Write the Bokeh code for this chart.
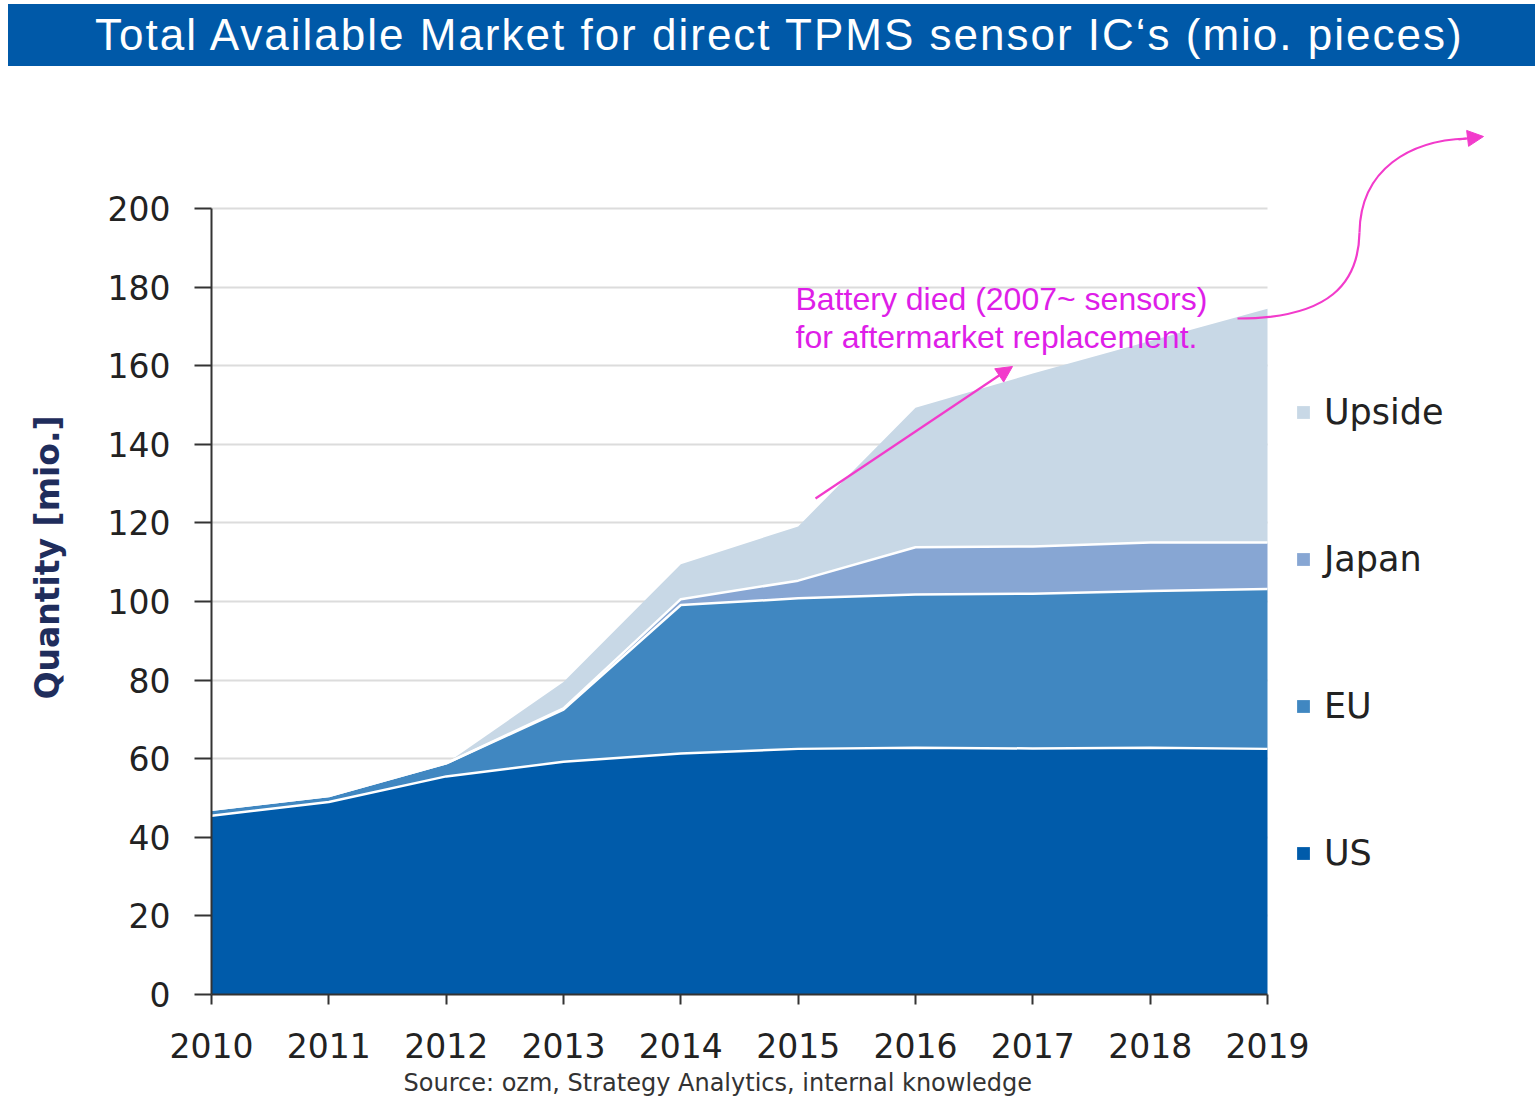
import numpy as np
from bokeh.plotting import figure
from bokeh.models import (Range1d, FixedTicker, Legend, LegendItem, Label, Arrow,
                          NormalHead, Div, Title)
from bokeh.layouts import column
from bokeh.embed import file_html
from bokeh.resources import INLINE

# ---------------- data ----------------
YEARS = [2010, 2011, 2012, 2013, 2014, 2015, 2016, 2017, 2018, 2019]
US = [45.5, 49.0, 55.5, 59.2, 61.3, 62.5, 62.8, 62.6, 62.8, 62.5]
EU = [1.5, 1.5, 3.3, 13.3, 37.8, 38.3, 39.0, 39.4, 39.9, 40.7]
JAPAN = [0.0, 0.0, 0.0, 0.3, 1.5, 4.5, 12.0, 12.0, 12.3, 11.8]
UPSIDE = [0.0, 0.0, 0.0, 6.7, 8.9, 13.8, 35.5, 44.0, 51.3, 59.5]
Y_TICKS = [0, 20, 40, 60, 80, 100, 120, 140, 160, 180, 200]

TITLE = "Total Available Market for direct TPMS sensor IC\u2018s (mio. pieces)"
Y_LABEL = "Quantity [mio.]"
NOTE_LINES = ["Battery died (2007~ sensors)", "for aftermarket replacement."]
SOURCE = "Source: ozm, Strategy Analytics, internal knowledge"

C_US = "#005BAA"
C_EU = "#4087C1"
C_JP = "#87A6D3"
C_UP = "#C8D8E6"
PINK = "#F23BCB"
NOTE_COLOR = "#DE1EE8"
TEXT_DARK = "#222222"

# ---------------- layout (page px) ----------------
W = 1535
BAR_TOP = 4
BAR_LEFT = 8
TITLE_H = 62
CANVAS_TOP = BAR_TOP + TITLE_H     # page y of canvas top
FIG_H = 1113 - CANVAS_TOP
FRAME_L_PAGE = 211
FRAME_T_PAGE = 120
AXIS0_PAGE = 994                   # y = 0
AXIS200_PAGE = 208                 # y = 200
X2019_PAGE = 1267
PX_PER_UNIT = (AXIS0_PAGE - AXIS200_PAGE) / 200.0
PX_PER_YEAR = (X2019_PAGE - FRAME_L_PAGE) / 9.0

min_left = FRAME_L_PAGE
min_top = FRAME_T_PAGE - CANVAS_TOP
min_bottom = FIG_H - (AXIS0_PAGE - CANVAS_TOP)
frame_w = W - min_left
frame_h = FIG_H - min_top - min_bottom
x_end = 2010 + frame_w / PX_PER_YEAR
y_end = frame_h / PX_PER_UNIT


def dx(px):
    return 2010 + (px - FRAME_L_PAGE) / PX_PER_YEAR


def dy(py):
    return (AXIS0_PAGE - py) / PX_PER_UNIT


p = figure(width=W, height=FIG_H, output_backend="svg", toolbar_location=None,
           x_range=Range1d(2010, x_end), y_range=Range1d(0, y_end),
           min_border_left=min_left, min_border_right=0,
           min_border_top=min_top, min_border_bottom=min_bottom)
p.outline_line_color = None
p.background_fill_color = "white"
p.border_fill_color = "white"

x = np.array(YEARS, dtype=float)
us = np.array(US)
eu_top = us + np.array(EU)
jp_top = eu_top + np.array(JAPAN)
up_top = jp_top + np.array(UPSIDE)

r_us = p.varea(x=x, y1=np.zeros_like(us), y2=us, fill_color=C_US)
r_eu = p.varea(x=x, y1=us, y2=eu_top, fill_color=C_EU)
r_jp = p.varea(x=x, y1=eu_top, y2=jp_top, fill_color=C_JP)
r_up = p.varea(x=x, y1=jp_top, y2=up_top, fill_color=C_UP)

for top in (us, eu_top, jp_top):
    p.line(x=x, y=top, line_color="white", line_width=2.5)

# grid
p.xgrid.visible = False
p.ygrid.ticker = FixedTicker(ticks=Y_TICKS)
p.ygrid.bounds = (0, 200)
p.ygrid.grid_line_color = "#DCDCDC"
p.ygrid.grid_line_width = 2
try:
    p.ygrid.cross_bounds = (2010, 2019)
except Exception:
    pass
p.ygrid.level = "underlay"

# axes
for ax in (p.xaxis[0], p.yaxis[0]):
    ax.axis_line_color = "#333333"
    ax.axis_line_width = 2
    ax.major_tick_line_color = "#333333"
    ax.major_tick_line_width = 2
    ax.major_tick_in = 0
    ax.minor_tick_line_color = None
    ax.major_label_text_font = "DejaVu Sans"
    ax.major_label_text_font_size = "33px"
    ax.major_label_text_color = TEXT_DARK

p.xaxis.ticker = FixedTicker(ticks=YEARS)
p.xaxis.bounds = (2010, 2019)
p.xaxis.major_tick_out = 10
p.xaxis.major_label_standoff = 28

p.yaxis.ticker = FixedTicker(ticks=Y_TICKS)
p.yaxis.bounds = (0, 200)
p.yaxis.major_tick_out = 17
p.yaxis.major_label_standoff = 24
p.yaxis.axis_label = Y_LABEL
p.yaxis.axis_label_text_font = "DejaVu Sans"
p.yaxis.axis_label_text_font_style = "bold"
p.yaxis.axis_label_text_font_size = "33px"
p.yaxis.axis_label_text_color = "#1F2D5C"
p.yaxis.axis_label_standoff = 38

# legend
legend = Legend(items=[
    LegendItem(label="Upside", renderers=[r_up]),
    LegendItem(label="Japan", renderers=[r_jp]),
    LegendItem(label="EU", renderers=[r_eu]),
    LegendItem(label="US", renderers=[r_us]),
], location=(1295 - FRAME_L_PAGE, AXIS0_PAGE - 873))
legend.padding = 0
legend.margin = 0
legend.border_line_color = None
legend.background_fill_alpha = 0
legend.glyph_width = 16
legend.glyph_height = 16
legend.label_height = 40
legend.spacing = 107
legend.label_standoff = 13
legend.label_text_font = "DejaVu Sans"
legend.label_text_font_size = "35px"
legend.label_text_color = TEXT_DARK
p.add_layout(legend)

# annotation text
p.add_layout(Label(x=dx(795), y=dy(298), text=NOTE_LINES[0], text_font="Liberation Sans",
                   text_font_size="32px", text_color=NOTE_COLOR, text_baseline="alphabetic"))
p.add_layout(Label(x=dx(795), y=dy(336), text=NOTE_LINES[1], text_font="Liberation Sans",
                   text_font_size="32px", text_color=NOTE_COLOR, text_baseline="alphabetic"))

# straight arrow
p.add_layout(Arrow(x_start=dx(815), y_start=dy(498), x_end=dx(1012), y_end=dy(366),
                   line_color=PINK, line_width=2.2,
                   end=NormalHead(size=16, fill_color=PINK, line_color=PINK)))

# S-curve arrow
p.bezier(x0=[dx(1237), dx(1359)], y0=[dy(318), dy(232)],
         x1=[dx(1359), dx(1466)], y1=[dy(232), dy(138)],
         cx0=[dx(1330), dx(1360)], cy0=[dy(318), dy(168)],
         cx1=[dx(1358), dx(1410)], cy1=[dy(282), dy(140)],
         line_color=PINK, line_width=2.2)
p.add_layout(Arrow(x_start=dx(1458), y_start=dy(139), x_end=dx(1483), y_end=dy(136),
                   line_color=PINK, line_width=2.2,
                   end=NormalHead(size=16, fill_color=PINK, line_color=PINK)))

# source line at the bottom
src = Title(text=SOURCE, align="left", offset=403 - FRAME_L_PAGE,
            text_font="DejaVu Sans", text_font_size="24px", text_font_style="normal",
            text_color="#333333", standoff=12)
p.add_layout(src, "below")

title_div = Div(
    text=('<div style="box-sizing:border-box;width:%dpx;background:#0059A8;color:white;'
          'font-family:\'Liberation Sans\';font-size:44px;letter-spacing:2px;'
          'height:%dpx;line-height:%dpx;padding-left:87px;border-left:0;'
          'white-space:nowrap;overflow:hidden;">%s</div>'
          % (W - BAR_LEFT, TITLE_H, TITLE_H, TITLE)),
    width=W - BAR_LEFT, height=TITLE_H, margin=(BAR_TOP, 0, 0, BAR_LEFT))

layout = column(title_div, p, spacing=0)
open("out.html", "w").write(file_html(layout, INLINE))
